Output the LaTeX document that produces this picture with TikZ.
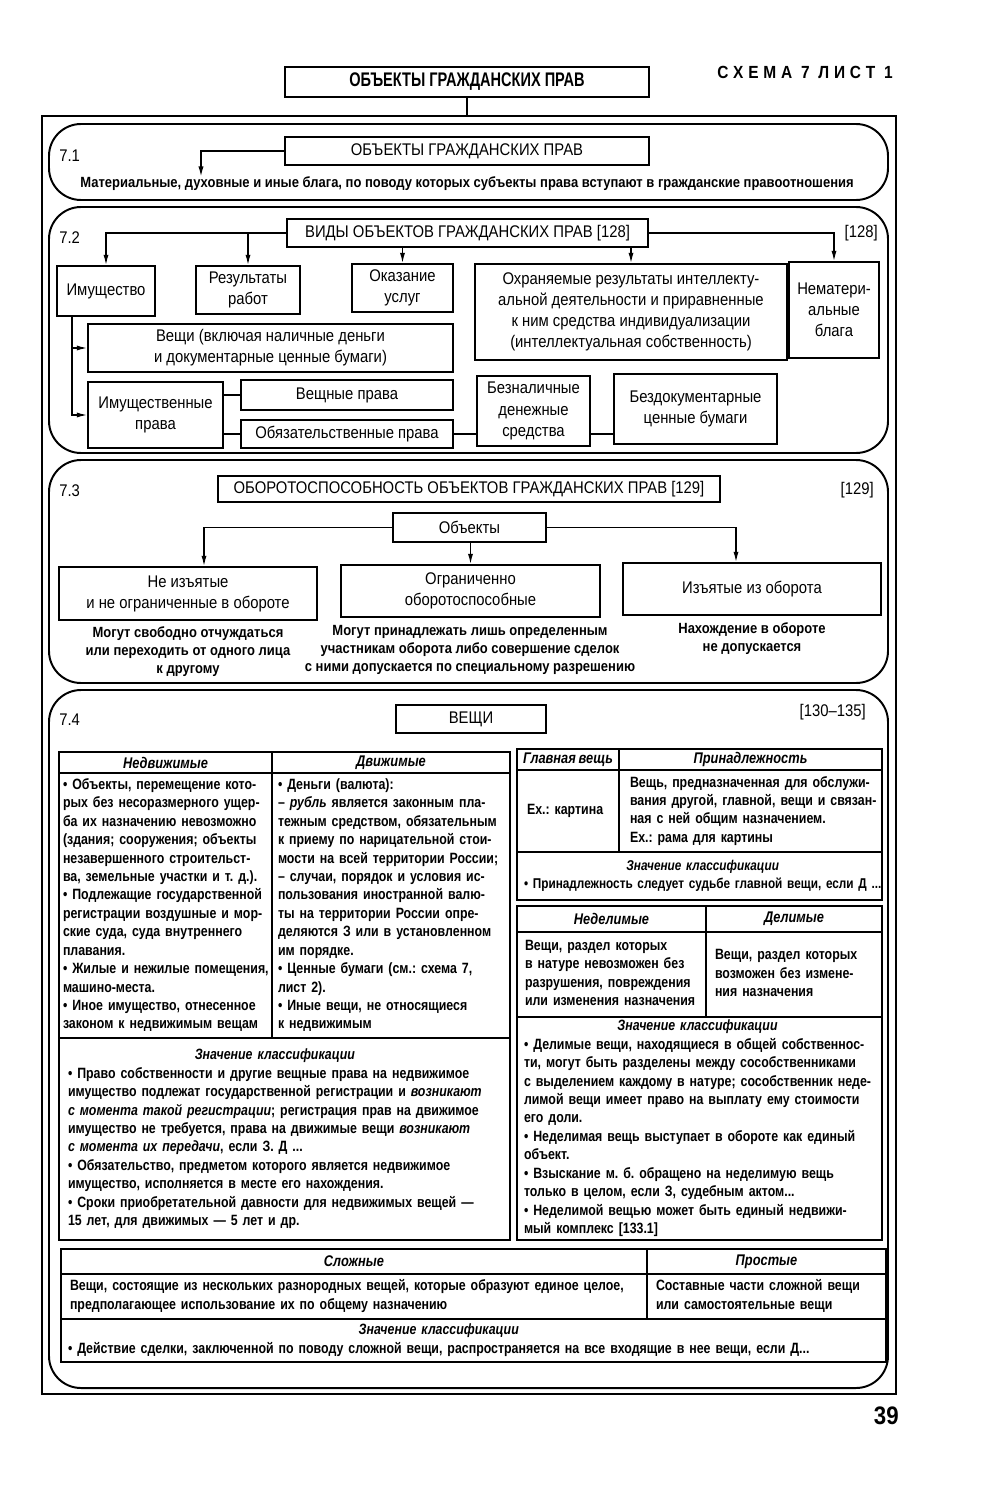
\documentclass[tikz,border=0pt]{standalone}
\usepackage{fontspec}
\setmainfont{Liberation Sans}[FakeStretch=0.88]
\newfontfamily\titlefont{Liberation Sans}[FakeStretch=0.74]
\newfontfamily\cellfont{Liberation Sans}[FakeStretch=0.83, WordSpace=0.8]
\usetikzlibrary{arrows.meta, positioning, calc}
\frenchspacing

\newcommand{\lsp}{\kern3.4pt}
\newcommand{\znach}{\multicolumn{1}{@{}c@{}}{\textit{Значение классификации}}}
\newcommand{\cellrows}[1]{\begin{tabular}{@{}l@{}}#1\end{tabular}}

\begin{document}
\begin{tikzpicture}[
    x=0.25mm, y=-0.25mm,
    wh/.style 2 args={minimum width=#1*0.25mm, minimum height=#2*0.25mm},
    cellwh/.style n args={3}{minimum width=#1*0.25mm, minimum height=#2*0.25mm, text width=(#1-2*#3)*0.25mm},
    frame/.style={draw, line width=1pt, inner sep=0pt},
    section/.style={draw, line width=1.4pt, rounded corners=8mm},
    title/.style={draw, line width=1.2pt, inner sep=0pt, font=\titlefont\bfseries\fontsize{14}{16}\selectfont},
    box/.style={draw, line width=1.2pt, inner sep=1pt, align=center, font=\fontsize{12}{15}\selectfont},
    note/.style={align=center, inner sep=0pt, font=\fontsize{10.5}{12.8}\selectfont\bfseries},
    num/.style={inner sep=0pt, font=\fontsize{12}{15}\selectfont},
    head/.style={draw, line width=1.2pt, inner sep=0pt, font=\cellfont\fontsize{11}{13}\selectfont\bfseries\itshape},
    cell/.style={draw, line width=1.2pt, inner sep=0pt, font=\cellfont\fontsize{10.6}{13.1}\selectfont\bfseries},
    arr/.style={-{Latex[length=2.6mm, width=1.3mm]}, line width=1pt},
    link/.style={line width=1pt}
]
    \path[fill=white, use as bounding box] (0,0) rectangle (1000,1491);

    % Header
    \node[title, wh={364}{30}] (title) at (467,82) {ОБЪЕКТЫ ГРАЖДАНСКИХ ПРАВ};
    \node[anchor=east, inner sep=0pt, font=\bfseries\fontsize{12.5}{14}\selectfont] (sheet) at (893,72)
        {С\lsp Х\lsp Е\lsp М\lsp А\enspace 7\enspace Л\lsp И\lsp С\lsp Т\enspace 1};
    \node[frame, wh={854}{1278}] (outer) at (469,755) {};
    \draw[link] (title.south) -- (title.south |- outer.north);

    % Sections
    \draw[section] (49,124) rectangle (888,200);
    \draw[section] (49,207) rectangle (888,453);
    \draw[section] (49,460) rectangle (888,683);
    \draw[section] (49,690) rectangle (888,1388);

    % 7.1
    \node[num, anchor=west] (n71) at (59,156) {7.1};
    \node[box, wh={364}{28}] (obj71) at (467,151) {ОБЪЕКТЫ ГРАЖДАНСКИХ ПРАВ};
    \node[note] (blaga) at (467,184) {Материальные, духовные и иные блага, по поводу которых субъекты права вступают в гражданские правоотношения};
    \draw[arr] (obj71.west) -| ([xshift=-66.5mm]blaga.north);

    % 7.2
    \node[num, anchor=west] (n72) at (59,238) {7.2};
    \node[box, wh={361}{28}] (vidy) at (467.5,233) {ВИДЫ ОБЪЕКТОВ ГРАЖДАНСКИХ ПРАВ [128]};
    \node[num, anchor=east] (r128) at (878,233) {[128]};
    \node[box, wh={98}{50}] (imush) at (106,291) {Имущество};
    \node[box, wh={104}{48}] (rezult) at (248,290) {Результаты\\работ};
    \node[box, wh={101}{48}] (okaz) at (402.5,288) {Оказание\\услуг};
    \node[box, wh={312}{96}] (ohran) at (631,312) {Охраняемые результаты интеллекту-\\альной деятельности и приравненные\\к ним средства индивидуализации\\(интеллектуальная собственность)};
    \node[box, wh={90}{96}] (nemat) at (834,310) {Нематери-\\альные\\блага};
    \node[box, wh={365}{48}] (veshchi) at (270.5,348) {Вещи (включая наличные деньги\\и документарные ценные бумаги)};
    \node[box, wh={135}{66}] (imprava) at (155.5,415) {Имущественные\\права};
    \node[box, wh={212}{30}] (veshprava) at (347,395) {Вещные права};
    \node[box, wh={212}{28}] (obyaz) at (347,434) {Обязательственные права};
    \node[box, wh={113}{70}] (beznal) at (533.5,411) {Безналичные\\денежные\\средства};
    \node[box, wh={163}{70}] (bezdok) at (695.5,409) {Бездокументарные\\ценные бумаги};

    \draw[arr] (vidy.west) -| (imush.north);
    \draw[arr] (vidy.west -| rezult.north) -- (rezult.north);
    \draw[arr] (vidy.south -| okaz.north) -- (okaz.north);
    \draw[arr] (vidy.south -| ohran.north) -- (ohran.north);
    \draw[arr] (vidy.east) -| (nemat.north);
    \draw[arr] ([xshift=-8.5mm]imush.south) |- (veshchi.west);
    \draw[arr] ([xshift=-8.5mm]imush.south) |- (imprava.west);
    \draw[link] (imprava.east |- veshprava.west) -- (veshprava.west);
    \draw[link] (imprava.east |- obyaz.west) -- (obyaz.west);
    \draw[link] (obyaz.east) -- (obyaz.east -| beznal.west);
    \draw[link] (obyaz.east -| beznal.east) -- (obyaz.east -| bezdok.west);

    % 7.3
    \node[num, anchor=west] (n73) at (59,491) {7.3};
    \node[box, wh={502}{26}] (obor) at (469,489) {ОБОРОТОСПОСОБНОСТЬ ОБЪЕКТОВ ГРАЖДАНСКИХ ПРАВ [129]};
    \node[num, anchor=east] (r129) at (874,490) {[129]};
    \node[box, wh={153}{29}] (objekty) at (469.5,527.5) {Объекты};
    \node[box, wh={258}{53}] (neiz) at (188,593.5) {Не изъятые\\и не ограниченные в обороте};
    \node[box, wh={259}{52}] (ogran) at (470.5,591) {Ограниченно\\оборотоспособные};
    \node[box, wh={258}{52}] (iziat) at (752,589) {Изъятые из оборота};
    \node[note] (neizd) at (188,652) {Могут свободно отчуждаться\\или переходить от одного лица\\к другому};
    \node[note] (ogrand) at (470,650) {Могут принадлежать лишь определенным\\участникам оборота либо совершение сделок\\с ними допускается по специальному разрешению};
    \node[note] (iziatd) at (752,639) {Нахождение в обороте\\не допускается};

    \draw[arr] (objekty.west) -| ([xshift=4mm]neiz.north);
    \draw[arr] (objekty.south -| ogran.north) -- (ogran.north);
    \draw[arr] (objekty.east) -| ([xshift=-4mm]iziat.north);

    % 7.4
    \node[num, anchor=west] (n74) at (59,720) {7.4};
    \node[box, wh={150}{28}] (veshch) at (471,719) {ВЕЩИ};
    \node[num, anchor=east] (r130) at (866,712) {[130–135]};

    % movable / immovable
    \node[head, wh={213}{21}] (nedvh) at (165.5,762.5) {Недвижимые};
    \node[head, wh={238}{21}] (dvizh) at (391,762.5) {Движимые};
    \node[cell, cellwh={213}{265}{4}] (nedvb) at (165.5,905.5) {\cellrows{• Объекты, перемещение кото-\\рых без несоразмерного ущер-\\ба их назначению невозможно\\(здания; сооружения; объекты\\незавершенного строительст-\\ва, земельные участки и т. д.).\\• Подлежащие государственной\\регистрации воздушные и мор-\\ские суда, суда внутреннего\\плавания.\\• Жилые и нежилые помещения,\\машино-места.\\• Иное имущество, отнесенное\\законом к недвижимым вещам}};
    \node[cell, cellwh={238}{265}{6}] (dvizb) at (391,905.5) {\cellrows{• Деньги (валюта):\\– \textit{рубль} является законным пла-\\тежным средством, обязательным\\к приему по нарицательной стои-\\мости на всей территории России;\\– случаи, порядок и условия ис-\\пользования иностранной валю-\\ты на территории России опре-\\деляются З или в установленном\\им порядке.\\• Ценные бумаги (см.: схема 7,\\лист 2).\\• Иные вещи, не относящиеся\\к недвижимым}};
    \node[cell, cellwh={451}{202}{9}] (lznach) at (284.5,1139) {\begin{tabular}{@{}l@{}}\znach\\
        • Право собственности и другие вещные права на недвижимое\\
        имущество подлежат государственной регистрации и \textit{возникают}\\
        \textit{с момента такой регистрации}; регистрация прав на движимое\\
        имущество не требуется, права на движимые вещи \textit{возникают}\\
        \textit{с момента их передачи}, если З. Д ...\\
        • Обязательство, предметом которого является недвижимое\\
        имущество, исполняется в месте его нахождения.\\
        • Сроки приобретательной давности для недвижимых вещей —\\
        15 лет, для движимых — 5 лет и др.\end{tabular}};

    % main thing / accessory
    \node[head, wh={102}{21}] (glavh) at (568,759.5) {Главная вещь};
    \node[head, wh={263}{21}] (prinh) at (750.5,759.5) {Принадлежность};
    \node[cell, cellwh={102}{82}{10}] (glavb) at (568,811) {\cellrows{Ex.: картина}};
    \node[cell, cellwh={263}{82}{11}] (prinb) at (750.5,811) {\cellrows{Вещь, предназначенная для обслужи-\\вания другой, главной, вещи и связан-\\ная с ней общим назначением.\\Ex.: рама для картины}};
    \node[cell, cellwh={365}{48}{7}, font=\cellfont\fontsize{10.1}{13.1}\selectfont\bfseries] (glznach) at (699.5,876) {\begin{tabular}{@{}l@{}}\znach\\
        • Принадлежность следует судьбе главной вещи, если Д ...\end{tabular}};

    % indivisible / divisible
    \node[head, wh={189}{26}] (nedelh) at (611.5,919) {Неделимые};
    \node[head, wh={176}{26}] (delh) at (794,919) {Делимые};
    \node[cell, cellwh={189}{85}{8}] (nedelb) at (611.5,974.5) {\cellrows{Вещи, раздел которых\\в натуре невозможен без\\разрушения, повреждения\\или изменения назначения}};
    \node[cell, cellwh={176}{85}{9}] (delb) at (794,974.5) {\cellrows{Вещи, раздел которых\\возможен без измене-\\ния назначения}};
    \node[cell, cellwh={365}{223}{7}] (rznach) at (699.5,1128.5) {\begin{tabular}{@{}l@{}}\znach\\
        • Делимые вещи, находящиеся в общей собственнос-\\
        ти, могут быть разделены между сособственниками\\
        с выделением каждому в натуре; сособственник неде-\\
        лимой вещи имеет право на выплату ему стоимости\\
        его доли.\\
        • Неделимая вещь выступает в обороте как единый\\
        объект.\\
        • Взыскание м. б. обращено на неделимую вещь\\
        только в целом, если З, судебным актом...\\
        • Неделимой вещью может быть единый недвижи-\\
        мый комплекс [133.1]\end{tabular}};

    % complex / simple
    \node[head, wh={586}{25}] (slozh) at (354,1261.5) {Сложные};
    \node[head, wh={239}{25}] (prost) at (766.5,1261.5) {Простые};
    \node[cell, cellwh={586}{45}{9}] (slozhb) at (354,1296.5) {\cellrows{Вещи, состоящие из нескольких разнородных вещей, которые образуют единое целое,\\предполагающее использование их по общему назначению}};
    \node[cell, cellwh={239}{45}{9}] (prostb) at (766.5,1296.5) {\cellrows{Составные части сложной вещи\\или самостоятельные вещи}};
    \node[cell, cellwh={825}{43}{7}] (sznach) at (473.5,1340.5) {\begin{tabular}{@{}l@{}}\znach\\
        • Действие сделки, заключенной по поводу сложной вещи, распространяется на все входящие в нее вещи, если Д...\end{tabular}};

    \node[anchor=east, inner sep=0pt, font=\bfseries\fontsize{18}{18}\selectfont] (pagenum) at (899,1416) {39};
\end{tikzpicture}
\end{document}
